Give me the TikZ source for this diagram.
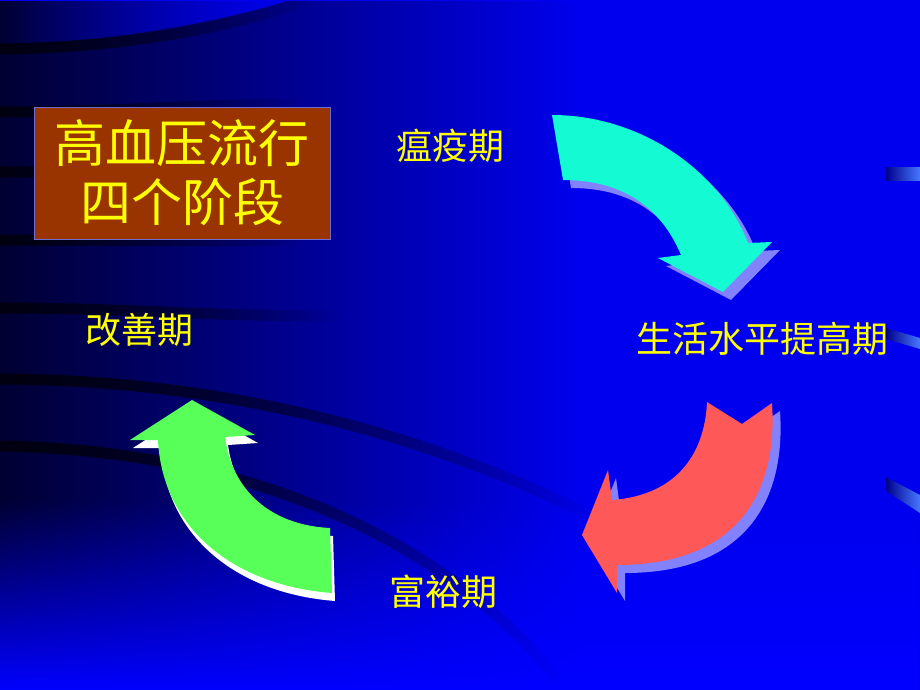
\documentclass[tikz,border=0pt]{standalone}
\usepackage{fontspec}
\setmainfont{Noto Sans CJK SC}
\usetikzlibrary{fadings}

\definecolor{bgblue}{RGB}{0,0,238}
\definecolor{bgnavy}{RGB}{0,0,50}
\definecolor{stripedark}{RGB}{0,0,16}
\definecolor{tabdark}{RGB}{0,0,140}
\definecolor{tablight}{RGB}{70,120,255}
\definecolor{titlebrown}{RGB}{153,51,0}
\definecolor{titleedge}{RGB}{110,110,210}
\definecolor{labelyellow}{RGB}{255,255,0}
\definecolor{cyanfill}{RGB}{20,250,210}
\definecolor{redfill}{RGB}{255,88,88}
\definecolor{greenfill}{RGB}{88,255,88}
\definecolor{shadowlilac}{RGB}{130,130,255}

\tikzfading[name=darkfade, left color=transparent!0, middle color=transparent!35, right color=transparent!100]
\tikzfading[name=risefade, top color=transparent!100, bottom color=transparent!0]
\tikzfading[name=brightfade, left color=transparent!100, right color=transparent!0]
\tikzfading[name=stripefade, left color=transparent!0, middle color=transparent!80, right color=transparent!100]

\begin{document}
\begin{tikzpicture}[x=1pt, y=-1pt,
    stagelabel/.style = {text=labelyellow, inner sep=0pt, font=\fontsize{36}{40}\selectfont},
    titlebox/.style = {draw=titleedge, line width=0.8pt, fill=titlebrown, text=labelyellow,
      minimum width=296pt, minimum height=132pt, align=center, inner sep=0pt,
      font=\fontsize{51}{59}\selectfont},
    darkband/.style = {stripedark, line width=11pt, path fading=stripefade},
    edgetab/.style = {left color=tabdark, right color=tablight}
  ]

  % Background
  \useasboundingbox (0,0) rectangle (920,690);
  \clip (0,0) rectangle (920,690);
  \fill[bgblue] (0,0) rectangle (920,690);
  \fill[bgnavy, path fading=darkfade] (0,0) rectangle (580,690);
  \fill[blue, path fading=risefade] (0,500) rectangle (920,690);
  \fill[bgblue, path fading=brightfade] (0,0) -- (0,44) .. controls (110,42) and (210,24) .. (290,0) -- cycle;
  \draw[darkband] (0,49) .. controls (120,48) and (230,28) .. (310,0);
  \foreach \ya/\yb/\xe in {112/104/300, 172/169/300, 240/241/300, 308/316/340}
    \draw[darkband] (0,\ya) .. controls (120,\ya) and (200,\yb) .. (\xe,\yb);
  \draw[darkband] (0,379) .. controls (220,380) and (420,430) .. (600,520);
  \draw[darkband] (0,446) .. controls (230,450) and (430,525) .. (560,680);
  \shade[edgetab] (886,167) -- (920,167) -- (920,180) -- (886,180) -- cycle;
  \shade[edgetab] (886,328) -- (920,338) -- (920,349) -- (886,339) -- cycle;
  \shade[edgetab] (886,477) -- (920,495) -- (920,513) -- (886,491) -- cycle;

  % Arrows
  \foreach \d/\col in {8/shadowlilac, 0/cyanfill}
    \fill[\col, shift={(\d,\d)}] (552,115) .. controls (640,115) and (720,170) .. (748,243)
      -- (772,242) -- (723,292) -- (658,258) -- (681,255)
      .. controls (660,205) and (620,180) .. (563,180) -- cycle;
  \foreach \d/\col in {8/shadowlilac, 0/redfill}
    \fill[\col, shift={(\d,\d)}] (707,402) -- (742,424) -- (772,403)
      .. controls (778,490) and (740,565) .. (617,565) -- (617,593) -- (582,535)
      -- (608,470) -- (612,500) .. controls (680,495) and (705,450) .. (707,402) -- cycle;
  \foreach \dx/\dy/\col in {3/8/white, 0/0/greenfill}
    \fill[\col, shift={(\dx,\dy)}] (158,440) -- (130,440) -- (192,400) -- (255,435) -- (225,437)
      .. controls (232,490) and (270,525) .. (330,528) -- (332,593)
      .. controls (230,585) and (162,525) .. (158,440) -- cycle;

  % Labels
  \node[titlebox] (stages) at (182,173) {高血压流行\\四个阶段};
  \node[stagelabel] (plague) at (450,146) {瘟疫期};
  \node[stagelabel] (living) at (762,339) {生活水平提高期};
  \node[stagelabel] (wealth) at (443,592) {富裕期};
  \node[stagelabel] (improve) at (139,330) {改善期};

\end{tikzpicture}
\end{document}
